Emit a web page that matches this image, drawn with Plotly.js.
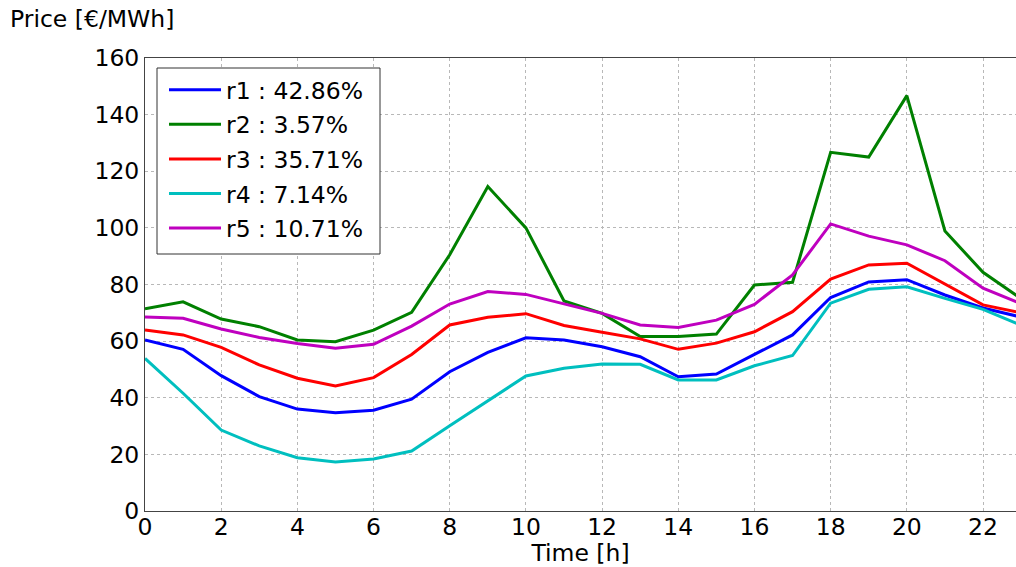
<!DOCTYPE html>
<html>
<head>
<meta charset="utf-8">
<script src="https://cdn.plot.ly/plotly-3.0.1.min.js"></script>
<style>html,body{margin:0;padding:0;background:#fff;}#chart{width:1016px;height:567px;}</style>
</head>
<body>
<div id="chart"></div>
<script>
const hours = [0,1,2,3,4,5,6,7,8,9,10,11,12,13,14,15,16,17,18,19,20,21,22,23];
const seriesNames = ["r1 : 42.86%", "r2 : 3.57%", "r3 : 35.71%", "r4 : 7.14%", "r5 : 10.71%"];
const r1 = [60.4,57.1,47.8,40.4,36.0,34.7,35.6,39.5,49.2,56.0,61.2,60.4,58.0,54.5,47.4,48.4,55.3,62.2,75.4,80.9,81.7,76.3,71.7,68.5];
const r2 = [71.4,73.9,67.8,65.1,60.4,59.8,63.9,70.2,90.5,114.6,100.0,74.2,69.8,61.6,61.6,62.5,79.8,80.8,126.7,125.0,146.7,98.9,84.3,75.0];
const r3 = [63.9,62.2,57.8,51.6,46.9,44.2,47.1,55.3,65.7,68.4,69.7,65.5,63.1,60.8,57.1,59.3,63.3,70.4,81.9,86.9,87.5,80.2,72.8,70.0];
const r4 = [53.9,41.6,28.6,23.0,18.8,17.3,18.4,21.2,30.1,38.8,47.7,50.4,51.9,51.8,46.3,46.3,51.3,54.9,73.4,78.3,79.2,75.1,71.2,65.6];
const r5 = [68.5,68.1,64.3,61.3,59.2,57.5,58.9,65.3,73.1,77.5,76.5,73.1,69.8,65.7,64.8,67.4,73.0,83.4,101.4,97.1,94.0,88.4,78.7,73.2];
const xTicks = [0,2,4,6,8,10,12,14,16,18,20,22];
const yTicks = [0,20,40,60,80,100,120,140,160];

const allSeries = [r1, r2, r3, r4, r5];
const colors = ["#0000ff", "#008000", "#ff0000", "#00bfbf", "#bf00bf"];
const FONT = "DejaVu Sans, sans-serif";
const FS = 23.5;
const PW = 871, PH = 453;

const traces = allSeries.map((ys, i) => ({
  x: hours, y: ys, type: "scatter", mode: "lines",
  name: seriesNames[i], legendgroup: "g" + i,
  line: {color: colors[i], width: 3}
}));

const layout = {
  width: 1016, height: 567,
  margin: {l: 145, r: 0, t: 58, b: 56},
  paper_bgcolor: "#fff", plot_bgcolor: "#fff",
  font: {family: FONT, size: FS, color: "#000"},
  showlegend: true,
  legend: {
    x: 19/PW, y: 1 - 10/PH, xanchor: "left", yanchor: "top",
    borderwidth: 0, bgcolor: "rgba(0,0,0,0)",
    font: {family: FONT, size: FS, color: "#000"},
    tracegroupgap: 1, traceorder: "grouped", itemwidth: 52
  },
  shapes: [{
    type: "rect", xref: "paper", yref: "paper", layer: "above",
    x0: 12/PW, x1: 235/PW, y0: 1 - 196/PH, y1: 1 - 10/PH,
    line: {color: "#333", width: 1}, fillcolor: "#fff"
  }],
  xaxis: {
    range: [0, 22.866], tickvals: xTicks, ticktext: xTicks.map(String),
    showgrid: true, gridcolor: "#b8b8b8", griddash: "dot", gridwidth: 1,
    showline: true, mirror: true, linecolor: "#444", linewidth: 1,
    zeroline: false, ticks: "", tickfont: {size: FS}, ticklabelstandoff: -5,
    title: {text: "Time [h]", font: {size: FS}, standoff: 0}
  },
  yaxis: {
    range: [0, 160], tickvals: yTicks, ticktext: yTicks.map(String),
    showgrid: true, gridcolor: "#b8b8b8", griddash: "dot", gridwidth: 1,
    showline: true, mirror: true, linecolor: "#444", linewidth: 1,
    zeroline: false, ticks: "", tickfont: {size: FS}
  },
  annotations: [{
    text: "Price [€/MWh]", xref: "paper", yref: "paper",
    x: -145/PW, y: 1 + 58/PH, xanchor: "left", yanchor: "top",
    xshift: 8, yshift: -3,
    showarrow: false, font: {family: FONT, size: FS, color: "#000"}
  }]
};

Plotly.newPlot("chart", traces, layout, {displayModeBar: false, staticPlot: true});
</script>
</body>
</html>
